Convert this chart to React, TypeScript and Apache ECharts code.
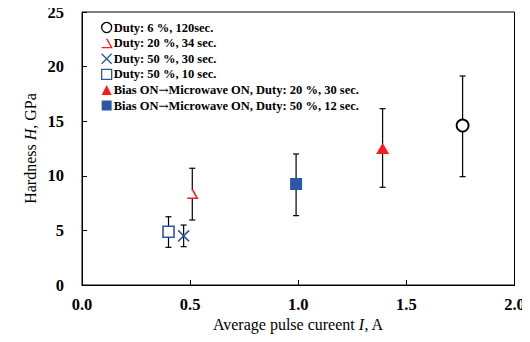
import React, { useEffect, useRef } from "react";
import * as echarts from "echarts";

const seriesNames = [
  "Duty: 6 %, 120sec.",
  "Duty: 20 %, 34 sec.",
  "Duty: 50 %, 30 sec.",
  "Duty: 50 %, 10 sec.",
  "Bias ON→Microwave ON, Duty: 20 %, 30 sec.",
  "Bias ON→Microwave ON, Duty: 50 %, 12 sec.",
];
// average pulse current (A)
const currents = [1.76, 0.51, 0.47, 0.4, 1.39, 0.99];
// hardness (GPa)
const hardness = [14.6, 8.35, 4.5, 4.88, 12.5, 9.25];
// error bar lower / upper (GPa)
const errLow = [9.92, 5.95, 3.51, 3.45, 8.95, 6.35];
const errHigh = [19.14, 10.69, 5.49, 6.25, 16.15, 12.0];

const xTicks = [0, 0.5, 1.0, 1.5, 2.0];
const yTicks = [0, 5, 10, 15, 20, 25];

const FONT = "Liberation Serif";
const RED = "#ff1a1a";
const BLUE = "#2c56a6";

const symbols = [
  { symbol: "circle", size: 12, fill: "#ffffff", stroke: "#000000", bw: 1.8 },
  { symbol: "path://M5,0L10,9L0,9", size: [10, 9], fill: "#ffffff", stroke: RED, bw: 1.5 },
  { symbol: "path://M0,0L10,10M10,0L0,10", size: 11, fill: "transparent", stroke: BLUE, bw: 1.5 },
  { symbol: "rect", size: 11, fill: "#ffffff", stroke: BLUE, bw: 1.6 },
  { symbol: "triangle", size: [13, 11], fill: RED, stroke: RED, bw: 0 },
  { symbol: "rect", size: 12, fill: BLUE, stroke: BLUE, bw: 0 },
];

export default function App() {
  const ref = useRef<HTMLDivElement>(null);
  useEffect(() => {
    if (!ref.current) return;
    const chart = echarts.init(ref.current, undefined, { renderer: "svg" });

    const errData = currents.map((x, i) => [x, errLow[i], errHigh[i]]);

    const scatterSeries = seriesNames.map((name, i) => ({
      type: "scatter",
      name,
      z: 5,
      symbol: symbols[i].symbol,
      symbolSize: symbols[i].size,
      itemStyle: {
        color: symbols[i].fill,
        borderColor: symbols[i].stroke,
        borderWidth: symbols[i].bw,
        opacity: 1,
      },
      data: [[currents[i], hardness[i]]],
    }));

    const option: any = {
      animation: false,
      backgroundColor: "#ffffff",
      grid: {
        left: 82,
        right: 15.5,
        top: 12,
        bottom: 57,
        containLabel: false,
        outerBoundsMode: "none",
        show: true,
        borderColor: "#000",
        borderWidth: 1,
      },
      legend: {
        orient: "vertical",
        left: 96,
        top: 16,
        itemWidth: 10,
        itemHeight: 10,
        itemGap: 2.6,
        selectedMode: false,
        formatter: (name: string) => name.replace("→", "{a|→}"),
        textStyle: {
          fontFamily: FONT,
          fontWeight: "bold",
          fontSize: 12.5,
          lineHeight: 13,
          color: "#000",
          padding: [0, 0, 0, -3],
          rich: {
            a: {
              fontFamily: "DejaVu Serif",
              fontWeight: "normal",
              fontSize: 12,
              lineHeight: 13,
              color: "#000",
            },
          },
        },
        data: seriesNames.map((name, i) => ({
          name,
          icon: symbols[i].symbol,
          itemStyle: {
            color: symbols[i].fill,
            borderColor: symbols[i].stroke,
            borderWidth: symbols[i].bw > 0 ? 1.3 : 0,
          },
        })),
      },
      xAxis: {
        type: "value",
        min: xTicks[0],
        max: xTicks[xTicks.length - 1],
        interval: 0.5,
        name: "Average pulse cureent {i|I}, A",
        nameLocation: "middle",
        nameGap: 31,
        nameMoveOverlap: false,
        nameTextStyle: {
          fontFamily: FONT,
          fontSize: 16,
          color: "#000",
          rich: { i: { fontFamily: FONT, fontSize: 16, fontStyle: "italic", color: "#000" } },
        },
        axisLine: { lineStyle: { color: "#000", width: 1 } },
        axisTick: { inside: true, length: 5, lineStyle: { color: "#000" } },
        axisLabel: {
          fontFamily: FONT,
          fontWeight: "bold",
          fontSize: 16.5,
          color: "#000",
          margin: 11,
          formatter: (v: number) => v.toFixed(1),
        },
        splitLine: { show: false },
      },
      yAxis: {
        type: "value",
        min: yTicks[0],
        max: yTicks[yTicks.length - 1],
        interval: 5,
        name: "Hardness {i|H}, GPa",
        nameLocation: "middle",
        nameGap: 44,
        nameMoveOverlap: false,
        nameTextStyle: {
          fontFamily: FONT,
          fontSize: 16,
          color: "#000",
          rich: { i: { fontFamily: FONT, fontSize: 16, fontStyle: "italic", color: "#000" } },
        },
        axisLine: { show: true, lineStyle: { color: "#000", width: 1 } },
        axisTick: { show: true, inside: true, length: 5, lineStyle: { color: "#000" } },
        axisLabel: {
          fontFamily: FONT,
          fontWeight: "bold",
          fontSize: 16.5,
          color: "#000",
          margin: 18,
        },
        splitLine: { show: false },
      },
      series: [
        {
          type: "custom",
          name: "errorbars",
          z: 2,
          silent: true,
          data: errData,
          renderItem: (params: any, api: any) => {
            const x = api.value(0);
            const lo = api.coord([x, api.value(1)]);
            const hi = api.coord([x, api.value(2)]);
            const cap = 3;
            const style = { stroke: "#000", lineWidth: 1.2 };
            return {
              type: "group",
              children: [
                { type: "line", shape: { x1: lo[0], y1: lo[1], x2: hi[0], y2: hi[1] }, style },
                { type: "line", shape: { x1: lo[0] - cap, y1: lo[1], x2: lo[0] + cap, y2: lo[1] }, style },
                { type: "line", shape: { x1: hi[0] - cap, y1: hi[1], x2: hi[0] + cap, y2: hi[1] }, style },
              ],
            };
          },
        },
        ...scatterSeries,
      ],
    };

    chart.setOption(option);
    return () => chart.dispose();
  }, []);

  return <div ref={ref} style={{ width: 530, height: 342, margin: -8 }} />;
}
